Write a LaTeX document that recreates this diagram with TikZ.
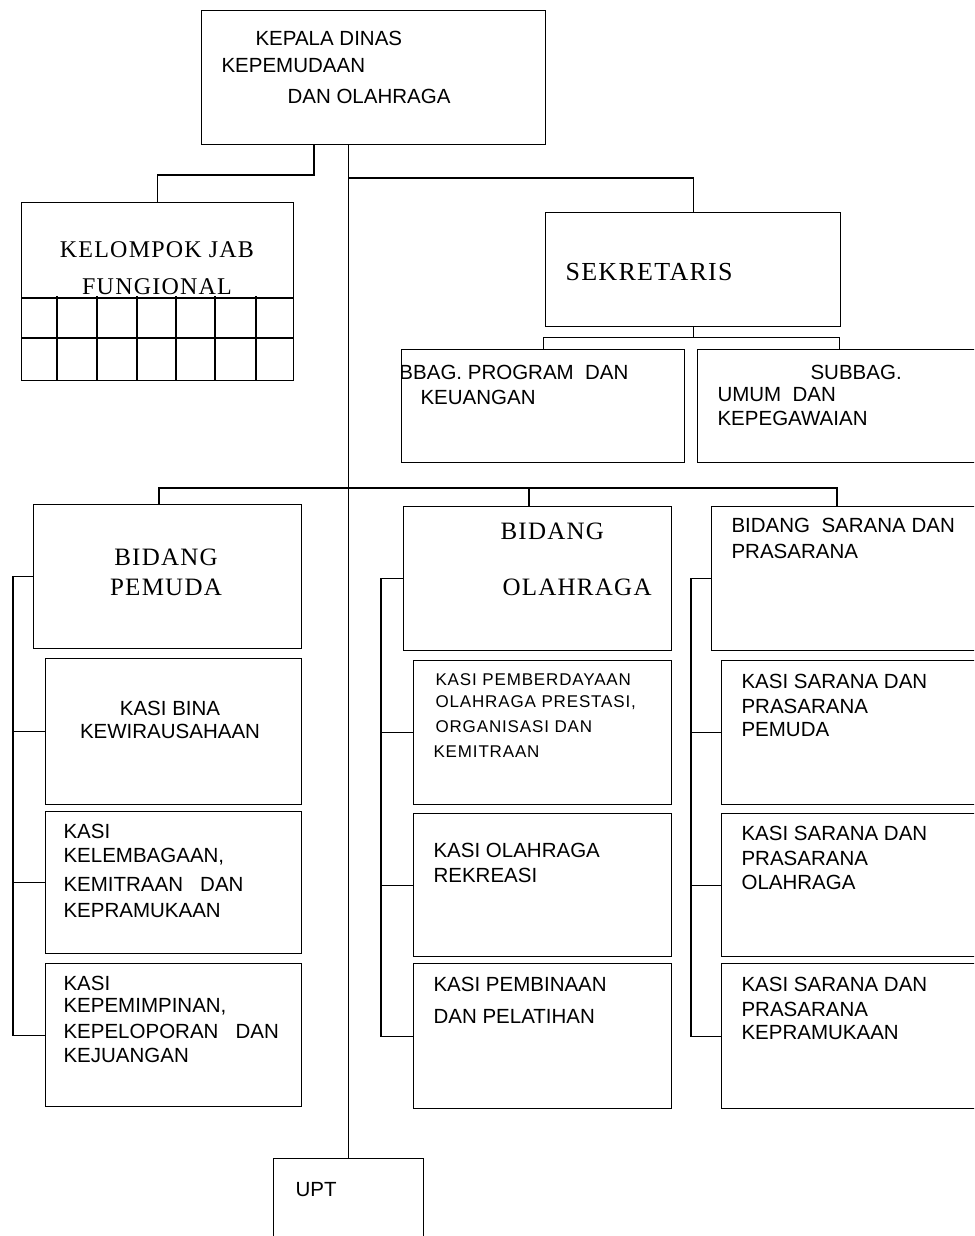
\documentclass[tikz,border=0pt]{standalone}
\usepackage{fontspec}
\setmainfont{Liberation Serif}
\setsansfont{Liberation Sans}
\newfontfamily\serfont[LetterSpace=5]{Liberation Serif}
\newfontfamily\smlfont[LetterSpace=5]{Liberation Sans}
\begin{document}
\begin{tikzpicture}[x=1pt,y=-1pt,
  line width=1.1pt,
  box/.style={draw,line width=1.1pt,inner sep=0pt,anchor=north west},
  lbl/.style={anchor=west,inner sep=0pt,font=\sffamily\fontsize{20.5}{24}\selectfont},
  lblc/.style={lbl,anchor=center},
  sml/.style={lbl,font=\smlfont\fontsize{17}{20}\selectfont},
  ser/.style={anchor=center,inner sep=0pt,font=\serfont\fontsize{25}{28}\selectfont},
  serw/.style={ser,anchor=west}]
\useasboundingbox (0,0) rectangle (974,1236);
\clip (0,0) rectangle (974,1236);

% ---------- boxes ----------
\node[box,minimum width=344pt,minimum height=134pt] (kepala) at (201,10) {};
\node[box,minimum width=272pt,minimum height=178pt] (kjf) at (21,202) {};
\node[box,minimum width=295pt,minimum height=114pt] (sek) at (545,212) {};
\node[box,minimum width=283pt,minimum height=113pt] (sub1) at (401,349) {};
\node[box,minimum width=283pt,minimum height=113pt] (sub2) at (697,349) {};

\node[box,minimum width=268pt,minimum height=144pt] (bp) at (33,504) {};
\node[box,minimum width=256pt,minimum height=146pt] (bp1) at (45,658) {};
\node[box,minimum width=256pt,minimum height=142pt] (bp2) at (45,811) {};
\node[box,minimum width=256pt,minimum height=143pt] (bp3) at (45,963) {};

\node[box,minimum width=268pt,minimum height=144pt] (bo) at (403,506) {};
\node[box,minimum width=258pt,minimum height=144pt] (bo1) at (413,660) {};
\node[box,minimum width=258pt,minimum height=143pt] (bo2) at (413,813) {};
\node[box,minimum width=258pt,minimum height=145pt] (bo3) at (413,963) {};

\node[box,minimum width=300pt,minimum height=144pt] (bs) at (711,506) {};
\node[box,minimum width=300pt,minimum height=144pt] (bs1) at (721,660) {};
\node[box,minimum width=300pt,minimum height=143pt] (bs2) at (721,813) {};
\node[box,minimum width=300pt,minimum height=145pt] (bs3) at (721,963) {};

\node[box,minimum width=150pt,minimum height=120pt] (upt) at (273,1158) {};

% grid inside kelompok jabatan fungsional
\draw (kjf.west |- 0,298) -- (kjf.east |- 0,298);
\draw (kjf.west |- 0,338) -- (kjf.east |- 0,338);
\foreach \gx in {57,97,137,176,215,256}
  \draw (\gx,296) -- (kjf.south -| \gx,0);

% ---------- connectors ----------
\draw ([xshift=113pt]kepala.south west) |- ([yshift=27pt]kjf.north) -- (kjf.north);
\draw (kepala.south -| upt.north) -- (upt.north);
\draw (upt.north |- 0,178) -| (sek.north);
\draw (sek.south) -- ([yshift=-10pt]sek.south);
\draw (sub1.north) |- ([yshift=-10pt]sek.south) -| (sub2.north);

\path ([xshift=126pt]bp.north west) coordinate (dp)
      ([xshift=126pt]bo.north west) coordinate (do)
      ([xshift=126pt]bs.north west) coordinate (ds);
\draw (dp) -- ++(0,-16) -| (ds);
\draw (do) -- ++(0,-18);

\coordinate (lp) at (13,0);
\coordinate (lo) at (381,0);
\coordinate (ls) at (691,0);
\draw (bp.west) -| (lp |- bp3.west) -- (bp3.west);
\draw (bp1.west) -- (lp |- bp1.west);
\draw (bp2.west) -- (lp |- bp2.west);
\draw (bo.west) -| (lo |- bo3.west) -- (bo3.west);
\draw (bo1.west) -- (lo |- bo1.west);
\draw (bo2.west) -- (lo |- bo2.west);
\draw (bs.west) -| (ls |- bs3.west) -- (bs3.west);
\draw (bs1.west) -- (ls |- bs1.west);
\draw (bs2.west) -- (ls |- bs2.west);

% ---------- texts ----------
\node[lbl] (k1) at (255,38) {KEPALA DINAS};
\node[lbl] (k2) at (221,66) {KEPEMUDAAN};
\node[lbl] (k3) at (287,96) {DAN OLAHRAGA};

\node[ser,font=\serfont\fontsize{24}{28}\selectfont] (j1) at (157,250) {KELOMPOK JAB};
\node[ser,font=\serfont\fontsize{24}{28}\selectfont] (j2) at (157,287) {FUNGIONAL};

\node[serw,font=\serfont\fontsize{26}{30}\selectfont] (s1) at (565,272) {SEKRETARIS};

\begin{scope}
\clip (sub1.north west) rectangle (sub1.south east);
\node[lbl,anchor=east] (u1) at (629,372) {SUBBAG. PROGRAM~ DAN};
\end{scope}
\node[lbl] (u2) at (420,397) {KEUANGAN};

\node[lbl] (v1) at (810,372) {SUBBAG.};
\node[lbl] (v2) at (717,395) {UMUM~ DAN};
\node[lbl] (v3) at (717,418) {KEPEGAWAIAN};

\node[ser] (p1) at (166,557) {BIDANG};
\node[ser] (p2) at (166,587) {PEMUDA};
\node[lblc] (p11) at (170,708) {KASI BINA};
\node[lblc] (p12) at (170,731) {KEWIRAUSAHAAN};
\node[lbl] (p21) at (63,831) {KASI};
\node[lbl] (p22) at (63,857) {KELEMBAGAAN,};
\node[lbl] (p23) at (63,884) {KEMITRAAN~~ DAN};
\node[lbl] (p24) at (63,911) {KEPRAMUKAAN};
\node[lbl] (p31) at (63,983) {KASI};
\node[lbl] (p32) at (63,1007) {KEPEMIMPINAN,};
\node[lbl] (p33) at (63,1031) {KEPELOPORAN~~ DAN};
\node[lbl] (p34) at (63,1055) {KEJUANGAN};

\node[serw] (o1) at (500,531) {BIDANG};
\node[serw] (o2) at (502,587) {OLAHRAGA};
\node[sml] (o11) at (435,680) {KASI PEMBERDAYAAN};
\node[sml] (o12) at (435,703) {OLAHRAGA PRESTASI,};
\node[sml] (o13) at (435,727) {ORGANISASI DAN};
\node[sml] (o14) at (433,752) {KEMITRAAN};
\node[lbl] (o21) at (433,850) {KASI OLAHRAGA};
\node[lbl] (o22) at (433,875) {REKREASI};
\node[lbl] (o31) at (433,984) {KASI PEMBINAAN};
\node[lbl] (o32) at (433,1016) {DAN PELATIHAN};

\node[lbl] (r1) at (731,525) {BIDANG~ SARANA DAN};
\node[lbl] (r2) at (731,551) {PRASARANA};
\node[lbl] (r11) at (741,681) {KASI SARANA DAN};
\node[lbl] (r12) at (741,706) {PRASARANA};
\node[lbl] (r13) at (741,730) {PEMUDA};
\node[lbl] (r21) at (741,833) {KASI SARANA DAN};
\node[lbl] (r22) at (741,858) {PRASARANA};
\node[lbl] (r23) at (741,882) {OLAHRAGA};
\node[lbl] (r31) at (741,984) {KASI SARANA DAN};
\node[lbl] (r32) at (741,1009) {PRASARANA};
\node[lbl] (r33) at (741,1033) {KEPRAMUKAAN};

\node[lbl] (t1) at (295,1190) {UPT};
\end{tikzpicture}
\end{document}
